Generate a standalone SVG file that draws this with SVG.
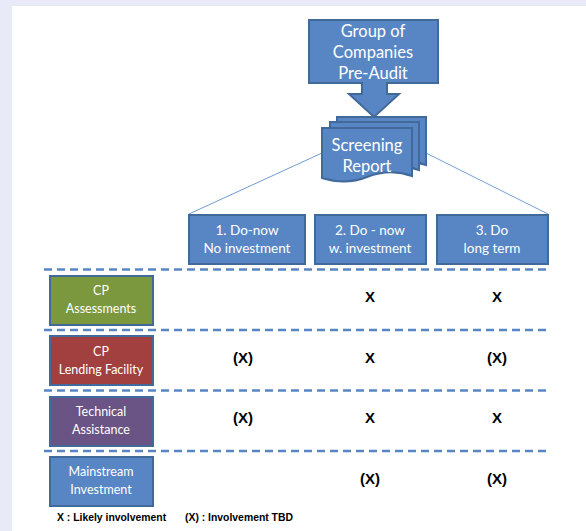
<svg xmlns="http://www.w3.org/2000/svg" width="586" height="531" viewBox="0 0 586 531">
<defs>
<style>
.bx{stroke:#41699a;stroke-width:2}
.blue{fill:#5886c4}
.t{font-family:Lato,"Liberation Sans",sans-serif;fill:#ffffff;text-anchor:middle}
.big{font-size:16.5px}
.mid{font-size:13.5px}
.sm{font-size:12.5px}
.x{font-family:"Liberation Sans",Arial,sans-serif;font-weight:bold;font-size:15px;fill:#000;text-anchor:middle}
.lg{font-family:"Liberation Sans",Arial,sans-serif;font-weight:bold;font-size:10.4px;fill:#000}
.dash{stroke:#5886c4;stroke-width:2.5;stroke-dasharray:8 5;fill:none}
.conn{stroke:#6f9bd0;stroke-width:1;fill:none}
</style>
</defs>
<rect width="586" height="531" fill="#ffffff"/>
<rect width="586" height="6" fill="#e8ebf7"/>
<rect width="12" height="531" fill="#e8ebf7"/>

<g id="connectors">
<line class="conn" x1="322" y1="153" x2="189" y2="214"/>
<line class="conn" x1="426" y1="153" x2="548" y2="214"/>
<line class="dash" x1="44" y1="269.5" x2="548" y2="269.5"/>
<line class="dash" x1="44" y1="330" x2="548" y2="330"/>
<line class="dash" x1="44" y1="390.5" x2="548" y2="390.5"/>
<line class="dash" x1="44" y1="451" x2="548" y2="451"/>
</g>

<g id="group-preaudit">
<path class="bx blue" d="M309,20 H438 V83 H387 V94 H399 L374,117 L349,94 H362 V83 H309 Z"/>
<text class="t big" x="373" y="37">Group of</text>
<text class="t big" x="373" y="58">Companies</text>
<text class="t big" x="373" y="79">Pre-Audit</text>
</g>

<g id="screening-report">
<path class="bx blue" d="M337,117 H426 V165 C409,159 394,161 381,166 C366,172 349,171 337,167 Z"/>
<path class="bx blue" d="M330,122 H419 V170 C402,164 387,166 374,171 C359,177 342,176 330,172 Z"/>
<path class="bx blue" d="M322,128 H412 V176 C395,170 380,172 367,177 C352,183 335,182 322,178 Z"/>
<text class="t big" x="367" y="151">Screening</text>
<text class="t big" x="367" y="172">Report</text>
</g>

<g id="col1">
<rect class="bx blue" x="189" y="215" width="116" height="49"/>
<text class="t mid" x="247" y="235">1. Do-now</text>
<text class="t mid" x="247" y="253">No investment</text>
</g>
<g id="col2">
<rect class="bx blue" x="315" y="215" width="111" height="49"/>
<text class="t mid" x="370" y="235">2. Do - now</text>
<text class="t mid" x="370" y="253">w. investment</text>
</g>
<g id="col3">
<rect class="bx blue" x="437" y="215" width="111" height="49"/>
<text class="t mid" x="492" y="235">3. Do</text>
<text class="t mid" x="492" y="253">long term</text>
</g>

<g id="cp-assessments">
<rect class="bx" fill="#7b983f" x="50" y="276" width="103" height="49"/>
<text class="t sm" x="101" y="295">CP</text>
<text class="t sm" x="101" y="313">Assessments</text>
</g>
<g id="cp-lending">
<rect class="bx" fill="#a1403e" x="50" y="336" width="103" height="49"/>
<text class="t sm" x="101" y="356">CP</text>
<text class="t sm" x="101" y="374">Lending Facility</text>
</g>
<g id="technical-assistance">
<rect class="bx" fill="#6a5385" x="50" y="397" width="103" height="49"/>
<text class="t sm" x="101" y="416">Technical</text>
<text class="t sm" x="101" y="434">Assistance</text>
</g>
<g id="mainstream-investment">
<rect class="bx blue" x="50" y="457" width="103" height="49"/>
<text class="t sm" x="101" y="476">Mainstream</text>
<text class="t sm" x="101" y="494">Investment</text>
</g>

<g id="marks">
<text class="x" x="370" y="302">X</text>
<text class="x" x="497" y="302">X</text>
<text class="x" x="243" y="363">(X)</text>
<text class="x" x="370" y="363">X</text>
<text class="x" x="497" y="363">(X)</text>
<text class="x" x="243" y="423">(X)</text>
<text class="x" x="370" y="423">X</text>
<text class="x" x="497" y="423">X</text>
<text class="x" x="370" y="484">(X)</text>
<text class="x" x="497" y="484">(X)</text>
</g>

<g id="legend">
<text class="lg" x="57" y="521">X : Likely involvement</text>
<text class="lg" x="185" y="521">(X) : Involvement TBD</text>
</g>
</svg>
